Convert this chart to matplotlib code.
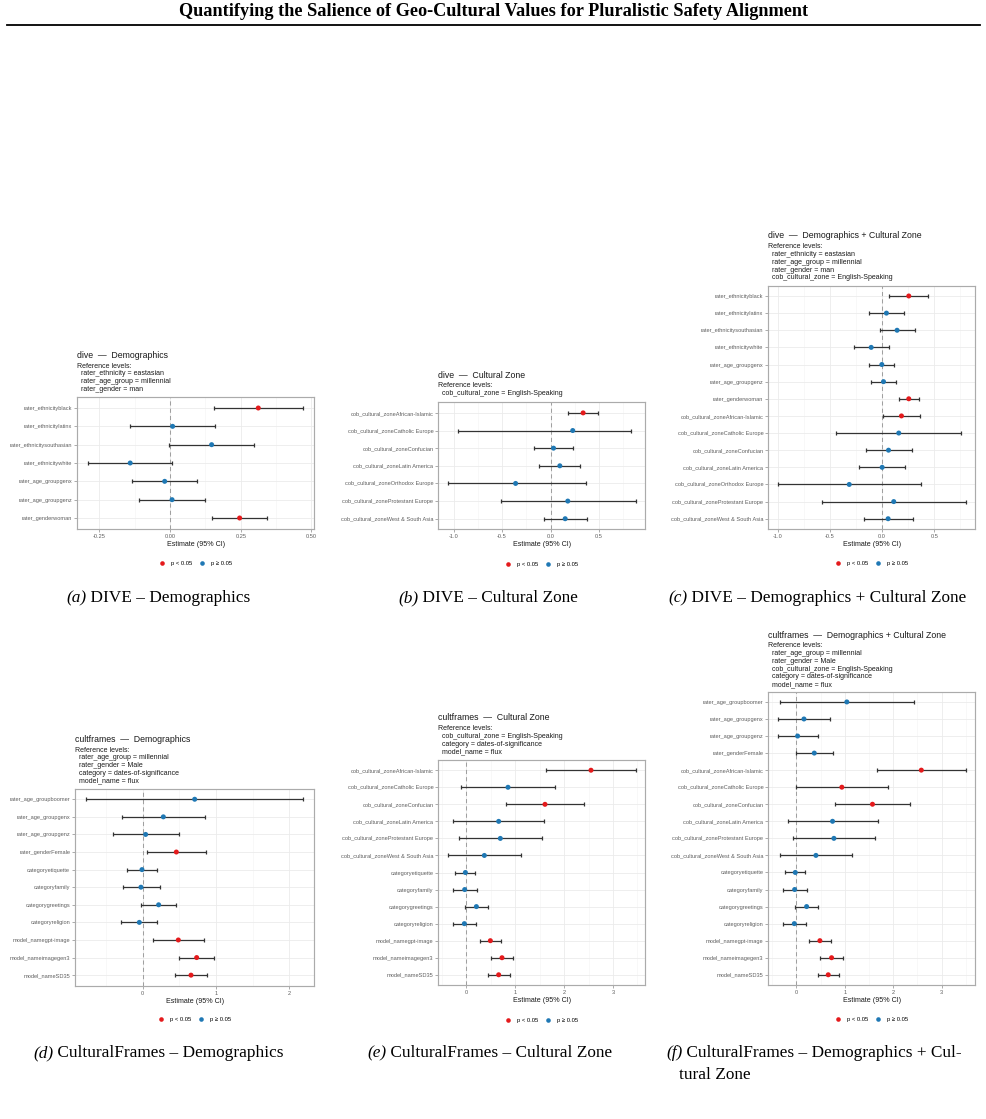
import matplotlib
matplotlib.use("Agg")
import matplotlib.pyplot as plt
from matplotlib.lines import Line2D
from matplotlib.ticker import FixedLocator, AutoMinorLocator
import numpy as np

W, H = 987, 1119
DPI = 100

# ------------------------------------------------------------------ data
a_terms = ["rater_ethnicityblack", "rater_ethnicitylatinx", "rater_ethnicitysouthasian",
           "rater_ethnicitywhite", "rater_age_groupgenx", "rater_age_groupgenz",
           "rater_genderwoman"]
a_est = [0.312, 0.009, 0.147, -0.141, -0.019, 0.007, 0.246]
a_lo = [0.155, -0.140, -0.005, -0.290, -0.136, -0.110, 0.150]
a_hi = [0.471, 0.158, 0.297, 0.008, 0.097, 0.123, 0.343]
a_sig = [True, False, False, False, False, False, True]
a_ticks = [-0.25, 0.0, 0.25, 0.50]
a_ticklabels = ["-0.25", "0.00", "0.25", "0.50"]

b_terms = ["cob_cultural_zoneAfrican-Islamic", "cob_cultural_zoneCatholic Europe",
           "cob_cultural_zoneConfucian", "cob_cultural_zoneLatin America",
           "cob_cultural_zoneOrthodox Europe", "cob_cultural_zoneProtestant Europe",
           "cob_cultural_zoneWest & South Asia"]
b_est = [0.336, 0.229, 0.031, 0.096, -0.360, 0.178, 0.151]
b_lo = [0.185, -0.950, -0.175, -0.116, -1.060, -0.510, -0.072]
b_hi = [0.486, 0.832, 0.236, 0.308, 0.363, 0.877, 0.373]
b_sig = [True, False, False, False, False, False, False]
b_ticks = [-1.0, -0.5, 0.0, 0.5]
b_ticklabels = ["-1.0", "-0.5", "0.0", "0.5"]

c_terms = ["rater_ethnicityblack", "rater_ethnicitylatinx", "rater_ethnicitysouthasian",
           "rater_ethnicitywhite", "rater_age_groupgenx", "rater_age_groupgenz",
           "rater_genderwoman", "cob_cultural_zoneAfrican-Islamic",
           "cob_cultural_zoneCatholic Europe", "cob_cultural_zoneConfucian",
           "cob_cultural_zoneLatin America", "cob_cultural_zoneOrthodox Europe",
           "cob_cultural_zoneProtestant Europe", "cob_cultural_zoneWest & South Asia"]
c_est = [0.255, 0.041, 0.143, -0.105, -0.003, 0.013, 0.255, 0.185, 0.159, 0.061,
         0.000, -0.315, 0.111, 0.057]
c_lo = [0.067, -0.127, -0.025, -0.271, -0.124, -0.105, 0.159, 0.010, -0.440, -0.159,
        -0.220, -1.000, -0.573, -0.178]
c_hi = [0.443, 0.210, 0.315, 0.061, 0.118, 0.134, 0.350, 0.360, 0.758, 0.287,
        0.220, 0.376, 0.799, 0.296]
c_sig = [True, False, False, False, False, False, True, True, False, False,
         False, False, False, False]
c_ticks = [-1.0, -0.5, 0.0, 0.5]
c_ticklabels = ["-1.0", "-0.5", "0.0", "0.5"]

d_terms = ["rater_age_groupboomer", "rater_age_groupgenx", "rater_age_groupgenz",
           "rater_genderFemale", "categoryetiquette", "categoryfamily",
           "categorygreetings", "categoryreligion", "model_namegpt-image",
           "model_nameimagegen3", "model_nameSD35"]
d_est = [0.709, 0.282, 0.041, 0.459, -0.009, -0.023, 0.218, -0.045, 0.486, 0.736, 0.659]
d_lo = [-0.773, -0.286, -0.400, 0.064, -0.214, -0.273, -0.027, -0.295, 0.141, 0.500, 0.441]
d_hi = [2.190, 0.855, 0.491, 0.859, 0.191, 0.232, 0.459, 0.200, 0.832, 0.973, 0.877]
d_sig = [False, False, False, True, False, False, False, False, True, True, True]
d_ticks = [0, 1, 2]
d_ticklabels = ["0", "1", "2"]

e_terms = ["cob_cultural_zoneAfrican-Islamic", "cob_cultural_zoneCatholic Europe",
           "cob_cultural_zoneConfucian", "cob_cultural_zoneLatin America",
           "cob_cultural_zoneProtestant Europe", "cob_cultural_zoneWest & South Asia",
           "categoryetiquette", "categoryfamily", "categorygreetings", "categoryreligion",
           "model_namegpt-image", "model_nameimagegen3", "model_nameSD35"]
e_est = [2.550, 0.852, 1.609, 0.661, 0.695, 0.368, -0.020, -0.034, 0.205, -0.041,
         0.491, 0.729, 0.661]
e_lo = [1.636, -0.109, 0.818, -0.266, -0.157, -0.382, -0.225, -0.279, -0.034, -0.279,
        0.273, 0.498, 0.436]
e_hi = [3.463, 1.820, 2.400, 1.595, 1.554, 1.118, 0.184, 0.218, 0.443, 0.205,
        0.709, 0.961, 0.886]
e_sig = [True, False, True, False, False, False, False, False, False, False,
         True, True, True]
e_ticks = [0, 1, 2, 3]
e_ticklabels = ["0", "1", "2", "3"]

f_terms = ["rater_age_groupboomer", "rater_age_groupgenx", "rater_age_groupgenz",
           "rater_genderFemale", "cob_cultural_zoneAfrican-Islamic",
           "cob_cultural_zoneCatholic Europe", "cob_cultural_zoneConfucian",
           "cob_cultural_zoneLatin America", "cob_cultural_zoneProtestant Europe",
           "cob_cultural_zoneWest & South Asia", "categoryetiquette", "categoryfamily",
           "categorygreetings", "categoryreligion", "model_namegpt-image",
           "model_nameimagegen3", "model_nameSD35"]
f_est = [1.043, 0.158, 0.027, 0.371, 2.580, 0.940, 1.572, 0.748, 0.776, 0.405,
         -0.021, -0.034, 0.213, -0.041, 0.487, 0.728, 0.659]
f_lo = [-0.343, -0.371, -0.384, -0.007, 1.675, 0.000, 0.796, -0.172, -0.075, -0.329,
        -0.226, -0.281, -0.027, -0.281, 0.268, 0.494, 0.439]
f_hi = [2.430, 0.700, 0.439, 0.748, 3.494, 1.887, 2.347, 1.682, 1.627, 1.146,
        0.185, 0.220, 0.453, 0.206, 0.707, 0.968, 0.879]
f_sig = [False, False, False, False, True, True, True, False, False, False,
         False, False, False, False, True, True, True]
f_ticks = [0, 1, 2, 3]
f_ticklabels = ["0", "1", "2", "3"]

a_title = "dive  \u2014  Demographics"
b_title = "dive  \u2014  Cultural Zone"
c_title = "dive  \u2014  Demographics + Cultural Zone"
d_title = "cultframes  \u2014  Demographics"
e_title = "cultframes  \u2014  Cultural Zone"
f_title = "cultframes  \u2014  Demographics + Cultural Zone"

a_refs = ["rater_ethnicity = eastasian", "rater_age_group = millennial", "rater_gender = man"]
b_refs = ["cob_cultural_zone = English-Speaking"]
c_refs = ["rater_ethnicity = eastasian", "rater_age_group = millennial", "rater_gender = man",
          "cob_cultural_zone = English-Speaking"]
d_refs = ["rater_age_group = millennial", "rater_gender = Male",
          "category = dates-of-significance", "model_name = flux"]
e_refs = ["cob_cultural_zone = English-Speaking", "category = dates-of-significance",
          "model_name = flux"]
f_refs = ["rater_age_group = millennial", "rater_gender = Male",
          "cob_cultural_zone = English-Speaking", "category = dates-of-significance",
          "model_name = flux"]

legend_labels = ["p < 0.05", "p \u2265 0.05"]
xlabel = "Estimate (95% CI)"
header = "Quantifying the Salience of Geo-Cultural Values for Pluralistic Safety Alignment"
captions = [("(a)", " DIVE \u2013 Demographics"),
            ("(b)", " DIVE \u2013 Cultural Zone"),
            ("(c)", " DIVE \u2013 Demographics + Cultural Zone"),
            ("(d)", " CulturalFrames \u2013 Demographics"),
            ("(e)", " CulturalFrames \u2013 Cultural Zone"),
            ("(f)", " CulturalFrames \u2013 Demographics + Cul-")]
caption_cont = "tural Zone"

# ------------------------------------------------------------------ style
RED = "#E41A1C"
BLUE = "#1F78B4"
BAR = "#333333"
SANS = ["Liberation Sans", "DejaVu Sans"]
SERIF = ["Liberation Serif", "DejaVu Serif"]

fig = plt.figure(figsize=(W / DPI, H / DPI), dpi=DPI)
renderer = fig.canvas.get_renderer()


def fx(x):
    return x / W


def fy(y):
    return 1 - y / H


def panel(box, terms, est, lo, hi, sig, ticks, ticklabels, title, refs,
          title_y, ref_y0, ref_step, legend_y):
    L, T, R, B = box
    ax = fig.add_axes([fx(L), fy(B), (R - L) / W, (B - T) / H])
    n = len(terms)
    y = np.arange(n)[::-1]
    est = np.asarray(est, float)
    lo = np.asarray(lo, float)
    hi = np.asarray(hi, float)
    cols = [RED if s else BLUE for s in sig]

    ax.axvline(0, color="#A0A0A0", lw=0.75, ls=(0, (4, 3)), zorder=2)
    ax.errorbar(est, y, xerr=[est - lo, hi - est], fmt="none", ecolor=BAR,
                elinewidth=0.9, capsize=1.7, capthick=0.9, zorder=3)
    ax.scatter(est, y, c=cols, s=13, linewidths=0, zorder=4)

    span = hi.max() - lo.min()
    ax.set_xlim(lo.min() - 0.05 * span, hi.max() + 0.05 * span)
    ax.set_ylim(-0.6, n - 0.4)

    ax.xaxis.set_major_locator(FixedLocator(ticks))
    ax.set_xticklabels(ticklabels)
    ax.xaxis.set_minor_locator(AutoMinorLocator(2))
    ax.set_yticks(y)
    ax.set_yticklabels(terms)

    ax.grid(True, which="major", color="#EBEBEB", lw=0.6, zorder=0)
    ax.grid(True, which="minor", axis="x", color="#F3F3F3", lw=0.4, zorder=0)
    ax.set_axisbelow(True)
    for sp in ax.spines.values():
        sp.set_color("#ABABAB")
        sp.set_linewidth(0.85)
    ax.tick_params(axis="both", which="major", length=2, width=0.5,
                   color="#8A8A8A", labelsize=4.1, labelcolor="#5E5E5E", pad=1.5)
    ax.tick_params(axis="x", which="minor", length=0)
    for lab in ax.get_xticklabels() + ax.get_yticklabels():
        lab.set_family(SANS)
    ax.set_xlabel(xlabel, fontsize=5.1, family=SANS, color="#1A1A1A", labelpad=1.5)

    fig.text(fx(L), fy(title_y), title, fontsize=6.3, family=SANS,
             color="#1A1A1A", ha="left", va="center")
    lines = ["Reference levels:"] + ["  " + r for r in refs]
    for i, s in enumerate(lines):
        fig.text(fx(L), fy(ref_y0 + i * ref_step), s, fontsize=5.0, family=SANS,
                 color="#1A1A1A", ha="left", va="center")

    handles = [Line2D([], [], ls="none", marker="o", ms=3.3, mfc=RED, mec="none"),
               Line2D([], [], ls="none", marker="o", ms=3.3, mfc=BLUE, mec="none")]
    fig.legend(handles, legend_labels, loc="center", ncol=2, frameon=False,
               bbox_to_anchor=(fx((L + R) / 2), fy(legend_y)),
               prop={"family": SANS, "size": 4.2}, handlelength=1.0,
               handletextpad=1.0, columnspacing=1.2, borderpad=0, borderaxespad=0)
    return ax


panel((77.3, 397, 314, 529), a_terms, a_est, a_lo, a_hi, a_sig, a_ticks, a_ticklabels,
      a_title, a_refs, 355, 366, 7.7, 563)
panel((438.3, 402.3, 645, 529.3), b_terms, b_est, b_lo, b_hi, b_sig, b_ticks, b_ticklabels,
      b_title, b_refs, 375.7, 385.7, 7.7, 564)
panel((768.3, 285.7, 975, 529), c_terms, c_est, c_lo, c_hi, c_sig, c_ticks, c_ticklabels,
      c_title, c_refs, 236, 247, 7.7, 563.7)
panel((75, 788.7, 314.3, 985.7), d_terms, d_est, d_lo, d_hi, d_sig, d_ticks, d_ticklabels,
      d_title, d_refs, 739, 750, 7.75, 1019.3)
panel((438.3, 760, 645, 985), e_terms, e_est, e_lo, e_hi, e_sig, e_ticks, e_ticklabels,
      e_title, e_refs, 717.3, 729, 7.75, 1020)
panel((768.3, 691.7, 975, 985), f_terms, f_est, f_lo, f_hi, f_sig, f_ticks, f_ticklabels,
      f_title, f_refs, 635, 645.7, 7.8, 1019.7)

# ------------------------------------------------------------------ header
t = fig.text(fx(493.5), fy(11.5), header, fontsize=11, family=SERIF, weight="bold",
             ha="center", va="center")
w = t.get_window_extent(renderer).width
t.set_fontsize(11 * (806 - 181) / w)
fig.add_artist(Line2D([fx(7), fx(980)], [fy(24.5), fy(24.5)], color="black", lw=1.3))

# ------------------------------------------------------------------ captions
CAP_FS = 12.4


def caption(x0, y, italic, rest, fs=CAP_FS):
    t1 = fig.text(fx(x0), fy(y), italic, fontsize=fs, family=SERIF, style="italic",
                  ha="left", va="center")
    w1 = t1.get_window_extent(renderer).width
    fig.text(fx(x0 + w1), fy(y), rest, fontsize=fs, family=SERIF,
             ha="left", va="center")


cap_pos = [(66, 598), (398, 598), (668, 598), (33, 1053), (367, 1053), (666, 1053)]
for (x0, y0), (it, rest) in zip(cap_pos, captions):
    caption(x0, y0, it, rest)
fig.text(fx(679), fy(1075), caption_cont, fontsize=CAP_FS, family=SERIF,
         ha="left", va="center")

fig.savefig("out.png", dpi=DPI)
